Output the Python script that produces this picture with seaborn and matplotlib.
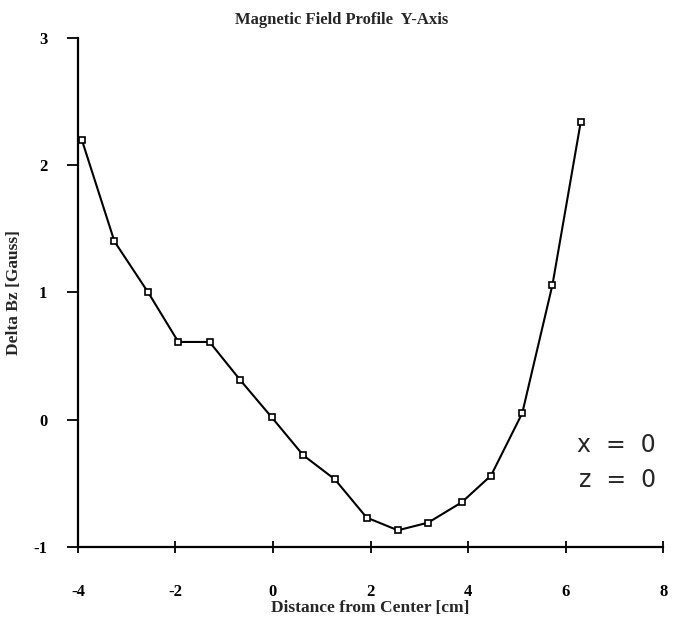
import matplotlib
matplotlib.use("Agg")
import matplotlib.pyplot as plt
import seaborn as sns
import pandas as pd

# Data
distance_cm = [-3.92, -3.25, -2.56, -1.94, -1.30, -0.67, -0.03, 0.62, 1.27,
               1.92, 2.56, 3.18, 3.87, 4.47, 5.11, 5.73, 6.31]
delta_bz = [2.20, 1.40, 1.00, 0.61, 0.61, 0.31, 0.02, -0.28, -0.47,
            -0.77, -0.87, -0.81, -0.65, -0.44, 0.05, 1.06, 2.34]
x_ticks = [-4, -2, 0, 2, 4, 6, 8]
y_ticks = [-1, 0, 1, 2, 3]
title = "Magnetic Field Profile  Y-Axis"
x_label = "Distance from Center [cm]"
y_label = "Delta Bz [Gauss]"
annotation_lines = ["x  =  0", "z  =  0"]

df = pd.DataFrame({"x": distance_cm, "y": delta_bz})

sns.set_theme(style="white")
plt.rcParams["font.family"] = ["Liberation Serif", "DejaVu Serif"]

fig = plt.figure(figsize=(6.83, 6.2), dpi=100)
ax = fig.add_axes([0.114, 0.118, 0.857, 0.821])

sns.lineplot(data=df, x="x", y="y", ax=ax, color="black", linewidth=1.5,
             marker="s", markersize=4.5, markerfacecolor="white",
             markeredgecolor="black", markeredgewidth=1.2)

ax.set_xlim(-4, 8)
ax.set_ylim(-1, 3)
ax.set_xticks(x_ticks)
ax.set_yticks(y_ticks)
ax.set_xticklabels([str(t) for t in x_ticks], fontsize=12, fontweight="bold")
ax.set_yticklabels([str(t) for t in y_ticks], fontsize=12, fontweight="bold")
ax.tick_params(axis="x", direction="inout", length=9, width=1.3, pad=22,
               colors="black", bottom=True)
ax.tick_params(axis="y", direction="out", length=8, width=1.3, pad=14,
               colors="black", left=True)

for side in ["top", "right"]:
    ax.spines[side].set_visible(False)
for side in ["left", "bottom"]:
    ax.spines[side].set_color("black")
    ax.spines[side].set_linewidth(1.6)

ax.set_xlabel(x_label, fontsize=12.5, fontweight="bold")
ax.set_ylabel(y_label, fontsize=12.5, fontweight="bold")
ax.xaxis.set_label_coords(0.5, -0.104)
ax.yaxis.set_label_coords(-0.096, 0.5)
fig.text(0.5, 0.968, title, ha="center", va="center", fontsize=12,
         fontweight="bold")

ax.text(0.988, 0.200, annotation_lines[0], transform=ax.transAxes,
        ha="right", va="center", fontsize=17, family="DejaVu Sans")
ax.text(0.988, 0.132, annotation_lines[1], transform=ax.transAxes,
        ha="right", va="center", fontsize=17, family="DejaVu Sans")

fig.savefig("out.png", dpi=100, facecolor="white")
